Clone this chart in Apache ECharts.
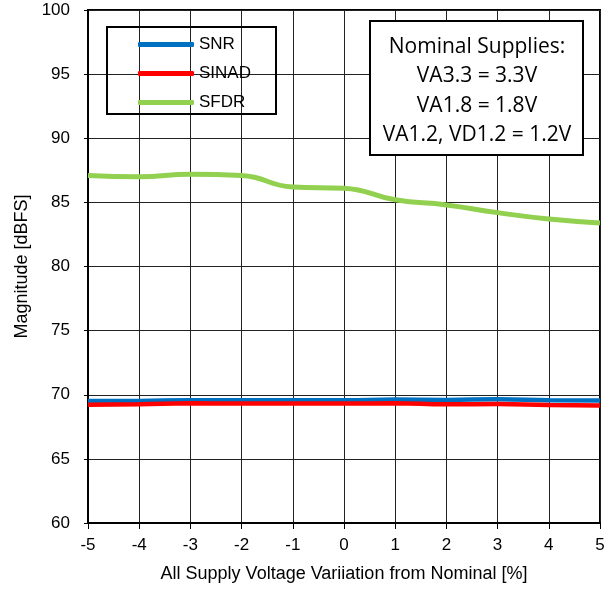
<!DOCTYPE html>
<html><head><meta charset="utf-8">
<script src="https://cdn.jsdelivr.net/npm/echarts@6/dist/echarts.min.js"></script>
<style>html,body{margin:0;padding:0;background:#fff}#c{width:613px;height:591px}</style>
</head><body><div id="c"></div>
<script>
const xValues = [-5, -4, -3, -2, -1, 0, 1, 2, 3, 4, 5];
const snr   = [69.51, 69.52, 69.57, 69.57, 69.58, 69.58, 69.62, 69.6, 69.64, 69.58, 69.55];
const sinad = [69.23, 69.26, 69.33, 69.32, 69.32, 69.32, 69.33, 69.25, 69.28, 69.2, 69.17];
const sfdr  = [87.1, 87.0, 87.2, 87.1, 86.2, 86.1, 85.2, 84.8, 84.2, 83.7, 83.4];
const seriesNames = ['SNR', 'SINAD', 'SFDR'];
const colors = ['#0070C0', '#FF0000', '#92D050'];
const noteLines = ['Nominal Supplies:', 'VA3.3 = 3.3V', 'VA1.8 = 1.8V', 'VA1.2, VD1.2 = 1.2V'];

const chart = echarts.init(document.getElementById('c'));
const pair = arr => xValues.map((x, i) => [x, arr[i]]);
const font = 'Liberation Sans, Arial, sans-serif';
chart.setOption({
  animation: false,
  grid: { left: 88, right: 13, top: 10, bottom: 68, show: true, borderColor: '#000', borderWidth: 2 },
  xAxis: {
    type: 'value', min: -5, max: 5, interval: 1,
    name: 'All Supply Voltage Variiation from Nominal [%]', nameLocation: 'middle', nameGap: 42,
    nameTextStyle: { fontFamily: font, fontSize: 18, color: '#000' },
    axisLine: { onZero: false, lineStyle: { color: '#000', width: 2 } },
    axisTick: { show: true, length: 6, lineStyle: { color: '#000' } },
    axisLabel: { fontFamily: font, fontSize: 17, color: '#000', margin: 14 },
    splitLine: { show: true, lineStyle: { color: '#222', width: 1 } }
  },
  yAxis: {
    type: 'value', min: 60, max: 100, interval: 5,
    name: 'Magnitude [dBFS]', nameLocation: 'middle', nameGap: 55,
    nameTextStyle: { fontFamily: font, fontSize: 18, color: '#000' },
    axisLine: { show: true, onZero: false, lineStyle: { color: '#000', width: 2 } },
    axisTick: { show: true, length: 4, lineStyle: { color: '#000' } },
    axisLabel: { fontFamily: font, fontSize: 17, color: '#000', margin: 18 },
    splitLine: { show: true, lineStyle: { color: '#222', width: 1 } }
  },
  legend: {
    orient: 'vertical', left: 133, top: 31, itemWidth: 56, itemHeight: 5, itemGap: 12,
    icon: 'roundRect',
    textStyle: { fontFamily: font, fontSize: 17, color: '#000' },
    data: seriesNames
  },
  series: [
    { name: 'SNR', type: 'line', smooth: true, symbol: 'none', data: pair(snr), color: colors[0], lineStyle: { width: 4.5 } },
    { name: 'SINAD', type: 'line', smooth: true, symbol: 'none', data: pair(sinad), color: colors[1], lineStyle: { width: 4.5 } },
    { name: 'SFDR', type: 'line', smooth: true, symbol: 'none', data: pair(sfdr), color: colors[2], lineStyle: { width: 5 } }
  ],
  graphic: [
    { type: 'rect', shape: { x: 107, y: 27, width: 169, height: 87 }, style: { fill: 'rgba(0,0,0,0)', stroke: '#000', lineWidth: 2 }, z: 100 },
    { type: 'rect', shape: { x: 370, y: 21, width: 213, height: 134 }, style: { fill: '#fff', stroke: '#000', lineWidth: 2 }, z: 100 },
    ...noteLines.map((t, i) => ({
      type: 'text', x: 477, y: 47 + i * 29.5, z: 101,
      style: { text: t, fill: '#000', font: '21px "Open Sans", "Noto Sans", sans-serif', textAlign: 'center', textVerticalAlign: 'middle' }
    }))
  ]
});
</script></body></html>
